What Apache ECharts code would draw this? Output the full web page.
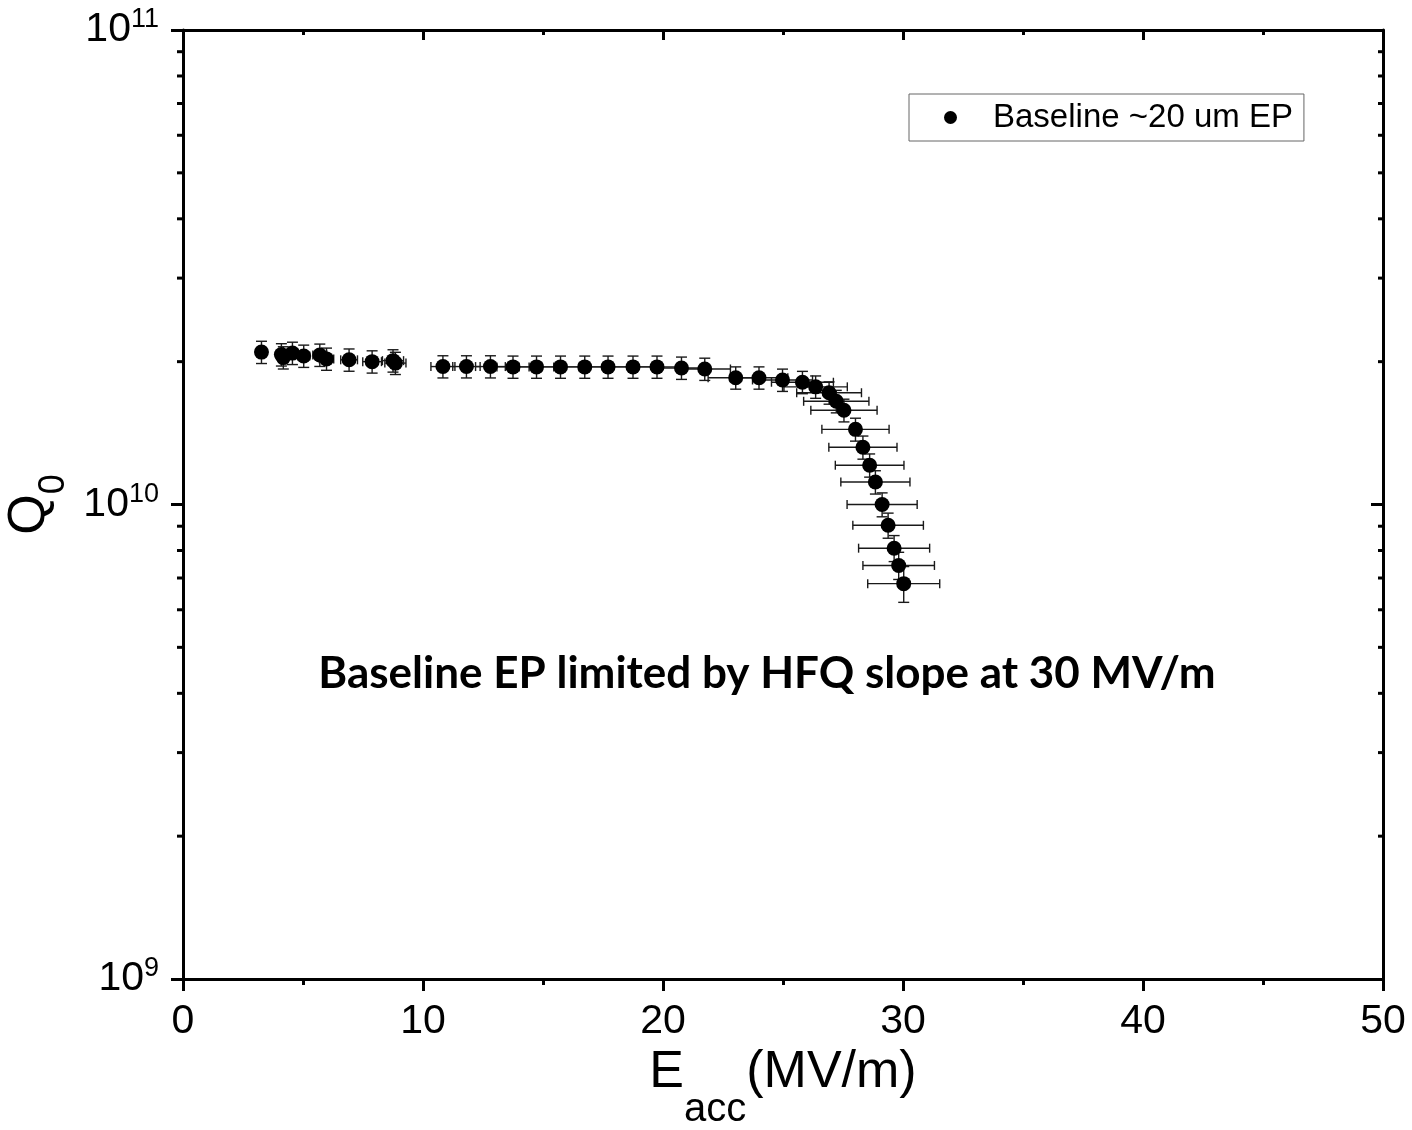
<!DOCTYPE html>
<html><head><meta charset="utf-8">
<script src="https://cdn.jsdelivr.net/npm/echarts@6/dist/echarts.min.js"></script>
<style>html,body{margin:0;padding:0;background:#fff}#c{width:1412px;height:1130px}</style>
</head><body><div id="c"></div>
<script>
// Eacc (MV/m)
const eacc = [3.27, 4.10, 4.18, 4.56, 5.03, 5.70, 5.98, 6.92, 7.88, 8.75, 8.85,
  10.83, 11.81, 12.81, 13.75, 14.73, 15.73, 16.74, 17.71, 18.75, 19.75, 20.77, 21.74,
  23.03, 24.00, 24.98, 25.81, 26.36, 26.92, 27.22, 27.54, 28.02, 28.33, 28.61, 28.85,
  29.13, 29.38, 29.63, 29.82, 30.03];
// Q0
const q0 = [2.095e10, 2.07e10, 2.04e10, 2.085e10, 2.056e10, 2.066e10, 2.027e10, 2.018e10, 2.00e10, 2.01e10, 1.986e10,
  1.953e10, 1.953e10, 1.953e10, 1.95e10, 1.95e10, 1.95e10, 1.95e10, 1.95e10, 1.95e10, 1.95e10, 1.94e10, 1.93e10,
  1.85e10, 1.85e10, 1.83e10, 1.81e10, 1.77e10, 1.72e10, 1.65e10, 1.58e10, 1.44e10, 1.32e10, 1.21e10, 1.115e10,
  1.00e10, 9.04e9, 8.09e9, 7.44e9, 6.81e9];
// Eacc error (MV/m)
const eaccErr = [0.16, 0.21, 0.21, 0.23, 0.25, 0.29, 0.30, 0.35, 0.39, 0.44, 0.44,
  0.50, 0.57, 0.62, 0.67, 0.72, 0.77, 0.82, 0.87, 0.92, 0.97, 1.02, 1.07,
  1.15, 1.20, 1.25, 1.29, 1.32, 1.35, 1.36, 1.38, 1.40, 1.42, 1.43, 1.44,
  1.46, 1.47, 1.48, 1.49, 1.50];
// Q0 error
const q0Err = [1.13e9, 1.12e9, 1.10e9, 1.13e9, 1.11e9, 1.12e9, 1.09e9, 1.09e9, 1.08e9, 1.09e9, 1.07e9,
  1.05e9, 1.05e9, 1.05e9, 1.05e9, 1.05e9, 1.05e9, 1.05e9, 1.05e9, 1.05e9, 1.05e9, 1.05e9, 1.04e9,
  1.00e9, 1.00e9, 0.99e9, 0.98e9, 0.96e9, 0.93e9, 0.90e9, 0.87e9, 0.80e9, 0.74e9, 0.68e9, 0.63e9,
  0.58e9, 0.55e9, 0.51e9, 0.49e9, 0.59e9];
// minor tick values on the log axis
const minorQ = [2e9, 3e9, 4e9, 5e9, 6e9, 7e9, 8e9, 9e9, 2e10, 3e10, 4e10, 5e10, 6e10, 7e10, 8e10, 9e10];
const seriesName = 'Baseline ~20 um EP';
const note = 'Baseline EP limited by HFQ slope at 30 MV/m';
const X_MIN = 0, X_MAX = 50, X_INT = 10;
const Y_MIN = 1e9, Y_MAX = 1e11;

const FONT = 'Liberation Sans, Arial, sans-serif';
const chart = echarts.init(document.getElementById('c'), null, {renderer: 'canvas'});

const axisLine = {show: true, onZero: false, lineStyle: {color: '#000', width: 3}};
const pts = eacc.map((x, i) => [x, q0[i]]);
const errData = eacc.map((x, i) => [x, q0[i], eaccErr[i], q0Err[i]]);

const option = {
  animation: false,
  backgroundColor: '#fff',
  grid: {left: 183, right: 29, top: 30, bottom: 151, containLabel: false, outerBoundsMode: 'none'},
  legend: {
    show: true, data: [seriesName], left: 909, top: 94,
    orient: 'horizontal', icon: 'circle', itemWidth: 13, itemHeight: 13,
    padding: [5, 11, 5, 35], borderColor: '#666', borderWidth: 1,
    selectedMode: false,
    textStyle: {fontSize: 33, fontFamily: FONT, color: '#000', lineHeight: 37, padding: [0, 0, 0, 31]}
  },
  xAxis: [{
    type: 'value', min: X_MIN, max: X_MAX, interval: X_INT, position: 'bottom',
    axisLine, splitLine: {show: false},
    axisTick: {show: true, inside: false, length: 12, lineStyle: {color: '#000', width: 3}},
    minorTick: {show: true, splitNumber: 2, length: 6, lineStyle: {color: '#000', width: 3}},
    minorSplitLine: {show: false},
    axisLabel: {fontSize: 41, fontFamily: FONT, color: '#000', margin: 22},
    name: 'E{sub|acc}(MV/m)', nameLocation: 'middle', nameGap: 35,
    nameTextStyle: {fontSize: 52, fontFamily: FONT, color: '#000',
      rich: {sub: {fontSize: 40, fontFamily: FONT, color: '#000', padding: [74, 0, 0, 0]}}}
  }, {
    type: 'value', min: X_MIN, max: X_MAX, interval: X_INT, position: 'top',
    axisLine, splitLine: {show: false},
    axisTick: {show: true, inside: true, length: 10, lineStyle: {color: '#000', width: 3}},
    minorTick: {show: true, splitNumber: 2, length: 5, lineStyle: {color: '#000', width: 3}},
    axisLabel: {show: false}
  }],
  yAxis: [{
    type: 'log', logBase: 10, min: Y_MIN, max: Y_MAX, splitNumber: 2, position: 'left',
    axisLine, splitLine: {show: false},
    axisTick: {show: true, inside: false, length: 12, lineStyle: {color: '#000', width: 3}},
    axisLabel: {
      fontSize: 41, fontFamily: FONT, color: '#000', margin: 24,
      formatter: v => '10{sup|' + Math.round(Math.log10(v)) + '}',
      rich: {sup: {fontSize: 27, fontFamily: FONT, color: '#000', padding: [0, 0, 20, 0]}}
    },
    name: 'Q{sub|0}', nameLocation: 'middle', nameGap: 96, nameRotate: 90,
    nameTextStyle: {fontSize: 52, fontFamily: FONT, color: '#000',
      rich: {sub: {fontSize: 36, fontFamily: FONT, color: '#000', padding: [50, 0, 0, 0]}}}
  }, {
    type: 'log', logBase: 10, min: Y_MIN, max: Y_MAX, splitNumber: 2, position: 'right',
    axisLine, splitLine: {show: false},
    axisTick: {show: true, inside: true, length: 12, lineStyle: {color: '#000', width: 3}},
    axisLabel: {show: false}
  }],
  series: [{
    name: 'minorTicks', type: 'custom', silent: true, xAxisIndex: 0, yAxisIndex: 0,
    data: minorQ.map(v => [X_MIN, v]), encode: {x: 0, y: 1}, clip: false, z: 5,
    renderItem: (params, api) => {
      const v = api.value(1);
      const l = api.coord([X_MIN, v]);
      const r = api.coord([X_MAX, v]);
      const st = {stroke: '#000', lineWidth: 3};
      return {type: 'group', children: [
        {type: 'line', shape: {x1: l[0] - 6, y1: l[1], x2: l[0], y2: l[1]}, style: st},
        {type: 'line', shape: {x1: r[0] - 5, y1: r[1], x2: r[0], y2: r[1]}, style: st}
      ]};
    }
  }, {
    name: 'errors', type: 'custom', silent: true, xAxisIndex: 0, yAxisIndex: 0,
    data: errData, encode: {x: 0, y: 1}, z: 2,
    renderItem: (params, api) => {
      const x = api.value(0), y = api.value(1), ex = api.value(2), ey = api.value(3);
      const c = api.coord([x, y]);
      const t = api.coord([x, y + ey]);
      const b = api.coord([x, y - ey]);
      const l = api.coord([x - ex, y]);
      const r = api.coord([x + ex, y]);
      const cw = 5.5, ch = 4.5;
      const st = {stroke: '#1a1a1a', lineWidth: 1.4};
      return {type: 'group', children: [
        {type: 'line', shape: {x1: c[0], y1: t[1], x2: c[0], y2: b[1]}, style: st},
        {type: 'line', shape: {x1: c[0] - cw, y1: t[1], x2: c[0] + cw, y2: t[1]}, style: st},
        {type: 'line', shape: {x1: c[0] - cw, y1: b[1], x2: c[0] + cw, y2: b[1]}, style: st},
        {type: 'line', shape: {x1: l[0], y1: c[1], x2: r[0], y2: c[1]}, style: st},
        {type: 'line', shape: {x1: l[0], y1: c[1] - ch, x2: l[0], y2: c[1] + ch}, style: st},
        {type: 'line', shape: {x1: r[0], y1: c[1] - ch, x2: r[0], y2: c[1] + ch}, style: st}
      ]};
    }
  }, {
    name: seriesName, type: 'scatter', xAxisIndex: 0, yAxisIndex: 0,
    data: pts, symbol: 'circle', symbolSize: 15, z: 3,
    itemStyle: {color: '#000', opacity: 1}
  }],
  graphic: [{
    type: 'text', x: 767, y: 674, z: 10,
    style: {text: note, fontSize: 44, fontWeight: 'bold', fontFamily: 'Lato, Noto Sans, sans-serif',
      fill: '#000', align: 'center', verticalAlign: 'middle'}
  }]
};
chart.setOption(option);
</script>
</body></html>
